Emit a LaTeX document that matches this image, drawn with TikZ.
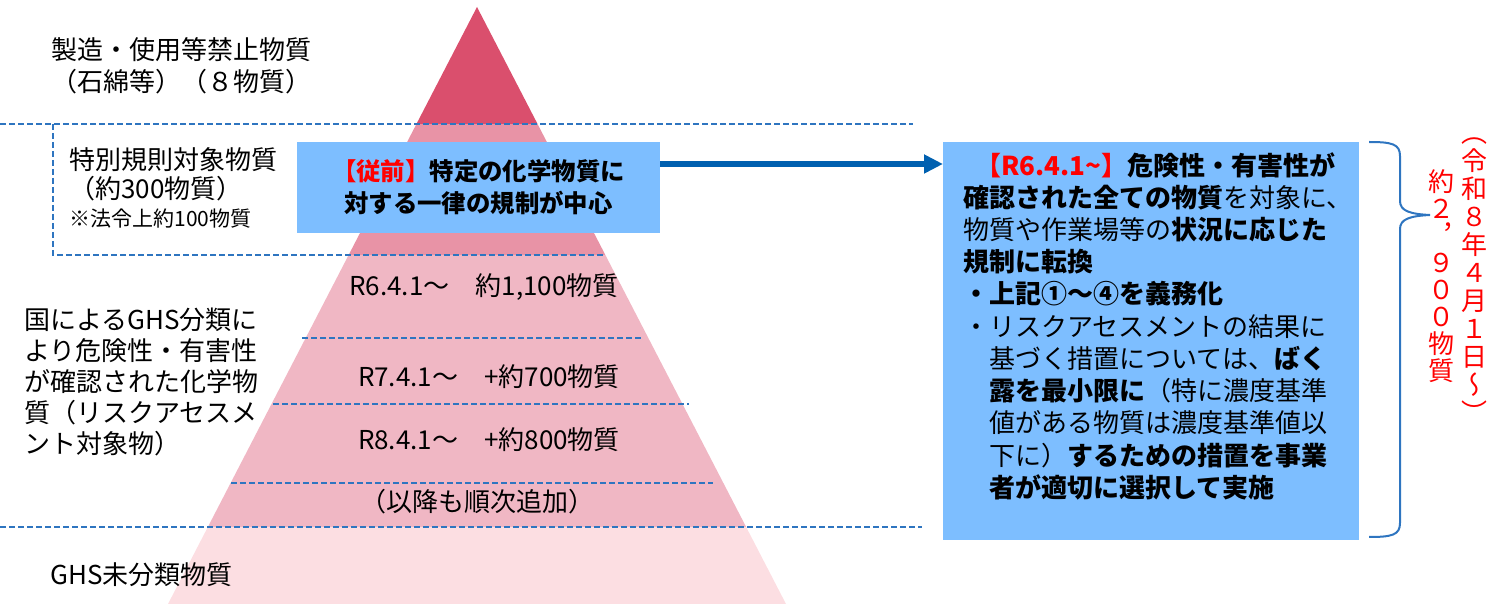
\documentclass[tikz,border=0pt]{standalone}
\usepackage{fontspec}
\setmainfont{Noto Sans CJK JP}
\newfontfamily\vertfont[RawFeature=+vert]{Noto Sans CJK JP}
\usepackage{xcolor}
\usetikzlibrary{positioning, arrows.meta}

\definecolor{topred}{HTML}{DA4F6D}
\definecolor{midpink}{HTML}{E893A6}
\definecolor{lowpink}{HTML}{F0B7C4}
\definecolor{palepink}{HTML}{FCDEE2}
\definecolor{boxblue}{HTML}{7DBEFF}
\definecolor{lineblue}{HTML}{2E75C0}
\definecolor{arrowblue}{HTML}{0060B0}
\definecolor{notered}{HTML}{FF0000}

\begin{document}
\begin{tikzpicture}[x=0.5pt, y=-0.5pt, >={Triangle[length=9.5pt,width=9pt]},
       every node/.style={inner sep=0pt},
       plain/.style={font=\fontsize{13}{15.5}\selectfont, align=left, anchor=west},
       layer/.style={font=\fontsize{13}{15.5}\selectfont},
       sep/.style={lineblue, line width=0.75pt, dash pattern=on 3pt off 1.5pt},
       bluebox/.style={fill=boxblue},
       vtext/.style={notered, align=center}]
       \useasboundingbox (0,0) rectangle (1496,604);

       % Pyramid
       \begin{scope}
           \clip (477,7) -- (786,604) -- (168,604) -- cycle;
           \fill[topred] (0,0) rectangle (1496,124);
           \fill[midpink] (0,124) rectangle (1496,255);
           \fill[lowpink] (0,255) rectangle (1496,527);
           \fill[palepink] (0,527) rectangle (1496,604);
       \end{scope}

       % Dashed separators
       \draw[sep] (0,124) -- (913,124);
       \draw[sep] (53,124) -- (53,255) -- (605,255);
       \draw[sep] (302,338) -- (643,338);
       \draw[sep] (273,404) -- (689,404);
       \draw[sep] (231,483) -- (713,483);
       \draw[sep] (0,527) -- (922,527);

       % Nodes
       \node[plain, font=\fontsize{13}{16}\selectfont] (banned) at (51,66) {製造・使用等禁止物質\\（石綿等）（８物質）};
       \node[plain, font=\fontsize{13}{14.5}\selectfont] (special) at (69,174) {特別規則対象物質\\（約300物質）};
       \node[plain, font=\fontsize{10.5}{12}\selectfont] (legal) at (69,219) {※法令上約100物質};
       \node[plain] (assessed) at (24,382) {国によるGHS分類に\\より危険性・有害性\\が確認された化学物\\質（リスクアセスメ\\ント対象物）};
       \node[plain] (unclassed) at (50,575) {GHS未分類物質};

       \node[layer] (r6) at (484,287) {R6.4.1～　約1,100物質};
       \node[layer] (r7) at (489,377) {R7.4.1～　+約700物質};
       \node[layer] (r8) at (489,440) {R8.4.1～　+約800物質};
       \node[layer] (later) at (477,502) {（以降も順次追加）};

       \node[bluebox, minimum width=181.5pt, minimum height=45.5pt, align=center,
             font=\bfseries\fontsize{12.2}{16}\selectfont] (before) at (478.5,187.5)
             {\textcolor{notered}{【従前】}特定の化学物質に\\対する一律の規制が中心};

       \node[bluebox, anchor=north west, inner ysep=5pt] (after) at (943,142) {\parbox[c][189pt][t]{208pt}{%
             \fontsize{13}{16.1}\selectfont\leftskip=10pt\parindent=0pt
             \hspace*{6pt}\textbf{\textcolor{notered}{【R6.4.1\textasciitilde】}危険性・有害性が}\\
             \textbf{確認された全ての物質}を対象に、\\
             物質や作業場等の\textbf{状況に応じた}\\
             \textbf{規制に転換}\\
             \textbf{・上記①～④を義務化}\\
             ・リスクアセスメントの結果に\\
             \hspace*{1em}基づく措置については、\textbf{ばく}\\
             \hspace*{1em}\textbf{露を最小限に}（特に濃度基準\\
             \hspace*{1em}値がある物質は濃度基準値以\\
             \hspace*{1em}下に）\textbf{するための措置を事業}\\
             \hspace*{1em}\textbf{者が適切に選択して実施}}};

       \node[vtext, font=\vertfont\fontsize{13}{14}\selectfont] (since) at (1474,280) {（\\令\\和\\８\\年\\４\\月\\１\\日\\～\\）};
       \node[vtext, font=\vertfont\fontsize{13}{13.5}\selectfont] (total) at (1441,276) {約\\２\\，\\９\\０\\０\\物\\質};

       % Arrows
       \coordinate (lvl) at (0,164);
       \draw[->, arrowblue, line width=3pt] (before.east |- lvl) -- (after.west |- lvl);

       % Brace
       \draw[lineblue, line width=1pt]
           (1369,142) .. controls (1392,142) and (1400,144) .. (1400,156)
           -- (1400,201) .. controls (1400,211) and (1410,214) .. (1430,215)
           .. controls (1410,216) and (1400,219) .. (1400,229)
           -- (1400,523) .. controls (1400,535) and (1392,537) .. (1369,537);
\end{tikzpicture}
\end{document}
